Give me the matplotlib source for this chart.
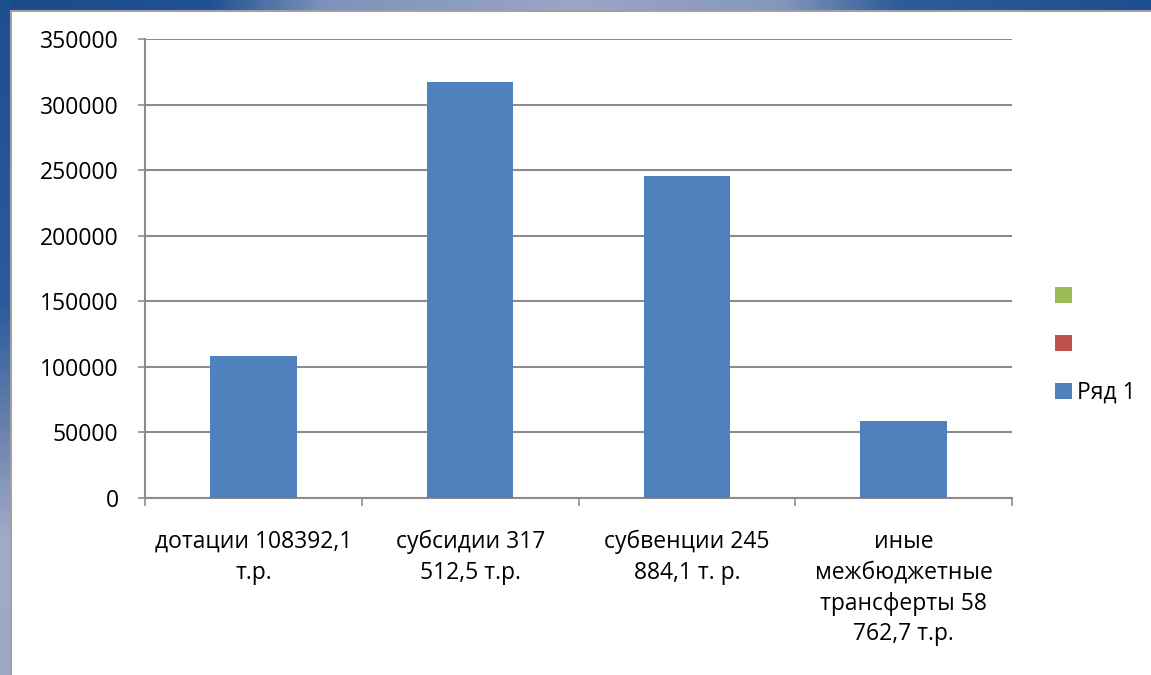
import numpy as np
import matplotlib.pyplot as plt
from matplotlib.patches import Patch
from matplotlib.colors import LinearSegmentedColormap

categories = ['дотации 108392,1\nт.р.',
              'субсидии 317\n512,5 т.р.',
              'субвенции 245\n884,1 т. р.',
              'иные\nмежбюджетные\nтрансферты 58\n762,7 т.р.']
values = [108392.1, 317512.5, 245884.1, 58762.7]
legend_labels = ['', '', 'Ряд 1']
legend_colors = ['#9BBB59', '#C0504D', '#4F81BD']
yticks = [0, 50000, 100000, 150000, 200000, 250000, 300000, 350000]

plt.rcParams['font.family'] = ['Open Sans', 'DejaVu Sans']

W, H = 1151, 675
fig = plt.figure(figsize=(W / 100, H / 100), dpi=100)
fig.patch.set_facecolor('white')

# slide background strips (decoration)
top_cmap = LinearSegmentedColormap.from_list(
    'top', [(0, '#1a4c88'), (0.18, '#1f5292'), (0.28, '#7d92bb'), (0.5, '#9aa6c6'),
            (0.68, '#8596bd'), (0.78, '#2f5c9a'), (1, '#1c4f8e')])
left_cmap = LinearSegmentedColormap.from_list(
    'left', [(0, '#1c4f8e'), (0.45, '#2a5c9c'), (0.65, '#6f84b0'), (0.8, '#a2abc9'), (1, '#9ea8c6')])
ax_top = fig.add_axes([0, 1 - 10 / H, 1, 10 / H])
ax_top.imshow(np.linspace(0, 1, 300)[None, :], cmap=top_cmap, aspect='auto')
ax_top.axis('off')
ax_left = fig.add_axes([0, 0, 10 / W, 1])
ax_left.imshow(np.linspace(0, 1, 300)[:, None], cmap=left_cmap, aspect='auto')
ax_left.axis('off')
fig.add_artist(plt.Line2D([10.5 / W, 1], [1 - 10.5 / H, 1 - 10.5 / H], color='#a0a0a0', lw=1.5))
fig.add_artist(plt.Line2D([10.5 / W, 10.5 / W], [0, 1 - 10.5 / H], color='#a0a0a0', lw=1.5))

ax = fig.add_axes([145 / W, 1 - 498 / H, (1012 - 145) / W, (498 - 39) / H])
x = np.arange(len(values))
ax.bar(x, values, width=0.4, color='#4F81BD', zorder=3)

ax.set_xlim(-0.5, len(values) - 0.5)
ax.set_ylim(0, 350000)
ax.set_yticks(yticks)
ax.set_yticklabels([str(v) for v in yticks])
ax.yaxis.grid(True, color='#8c8c8c', lw=1.5, zorder=0)
ax.tick_params(axis='y', length=5, width=1.2, color='#8c8c8c', pad=14, labelsize=16.5)

ax.set_xticks(x)
ax.set_xticklabels(categories, linespacing=1.38)
ax.set_xticks(np.arange(-0.5, len(values)), minor=True)
ax.tick_params(axis='x', which='major', length=0, pad=23, labelsize=16.5)
ax.tick_params(axis='x', which='minor', length=6, width=1.2, color='#8c8c8c')

for s in ['top', 'right']:
    ax.spines[s].set_visible(False)
for s in ['left', 'bottom']:
    ax.spines[s].set_color('#8c8c8c')
    ax.spines[s].set_linewidth(1.5)

handles = [Patch(facecolor=c) for c in legend_colors]
fig.legend(handles, legend_labels, loc='center left',
           bbox_to_anchor=(1044 / W, 1 - 345 / H), frameon=False,
           fontsize=16.5, handlelength=0.7, handleheight=0.7,
           handletextpad=0.22, labelspacing=1.05, borderpad=0)

fig.savefig('out.png', dpi=100)
